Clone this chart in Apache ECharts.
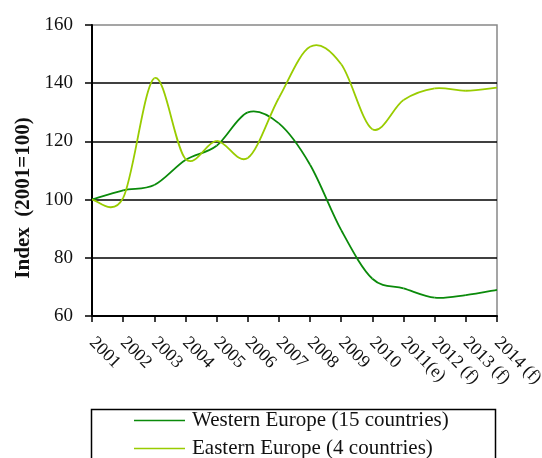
<!DOCTYPE html>
<html>
<head>
<meta charset="utf-8">
<script src="https://cdn.jsdelivr.net/npm/echarts@6/dist/echarts.min.js"></script>
<style>
html,body{margin:0;padding:0;background:#fff;}
#main{width:542px;height:458px;}
</style>
</head>
<body>
<div id="main"></div>
<script>
// 年份(类目)
var years = ['2001','2002','2003','2004','2005','2006','2007','2008','2009','2010','2011(e)','2012 (f)','2013 (f)','2014 (f)'];
// 指标值 (2001=100)
var western = [100, 103.2, 105, 113.6, 118.5, 130, 126.2, 112, 89.5, 72.8, 69.5, 66.3, 67.2, 69];
var eastern = [100, 100.6, 141.7, 114, 120.2, 114.3, 135, 152.5, 146.5, 124.2, 134.2, 138.2, 137.4, 138.5];
var seriesNames = ['Western Europe (15 countries)', 'Eastern Europe (4 countries)'];
var yTicks = [60, 160, 20]; // min, max, interval

var FONT = '"Liberation Serif", "DejaVu Serif", serif';
var colors = ['#0a8a0a', '#99cc00'];

var chart = echarts.init(document.getElementById('main'), null, {renderer: 'canvas'});

// 平滑曲线(Catmull-Rom), 每段一个bezier, 坐标由坐标轴换算
function splineRenderer(values, color) {
	return function(params, api) {
		var i = params.dataIndex;
		var n = values.length;
		if (i >= n - 1) return {type: 'group', children: []};
		var p = function(k) {
			k = Math.max(0, Math.min(n - 1, k));
			return api.coord([k, values[k]]);
		};
		var p0 = p(i - 1), p1 = p(i), p2 = p(i + 1), p3 = p(i + 2);
		var t = 1 / 6;
		return {
			type: 'bezierCurve',
			shape: {
				x1: p1[0], y1: p1[1], x2: p2[0], y2: p2[1],
				cpx1: p1[0] + (p2[0] - p0[0]) * t, cpy1: p1[1] + (p2[1] - p0[1]) * t,
				cpx2: p2[0] - (p3[0] - p1[0]) * t, cpy2: p2[1] - (p3[1] - p1[1]) * t
			},
			style: {stroke: color, lineWidth: 1.8, fill: null},
			silent: true
		};
	};
}

function toPairs(values) {
	var out = [];
	for (var i = 0; i < values.length; ++i) out.push([i, values[i]]);
	return out;
}

// 图例: 每个系列一个
function mkLegend(name, top) {
	return {
		orient: 'vertical',
		left: 134, top: top,
		padding: 0,
		icon: 'rect',
		itemWidth: 51, itemHeight: 1.6,
		textStyle: {fontFamily: FONT, fontSize: 21, color: '#111', padding: [0, 0, 0, 2]},
		data: [name]
	};
}

var option = {
	animation: false,
	backgroundColor: '#fff',
	grid: {
		left: 92, right: 45, top: 25, bottom: 142,
		outerBoundsMode: 'none',
		containLabel: false,
		show: true,
		borderColor: '#888',
		borderWidth: 1.5
	},
	xAxis: {
		type: 'category',
		data: years,
		boundaryGap: false,
		axisLine: {lineStyle: {color: '#000', width: 2}},
		axisTick: {show: true, alignWithLabel: true, length: 6, lineStyle: {color: '#000', width: 1.5}},
		axisLabel: {
			interval: 0,
			rotate: -45,
			margin: 24,
			color: '#111',
			fontFamily: FONT,
			fontSize: 18
		},
		splitLine: {show: false}
	},
	yAxis: {
		type: 'value',
		min: yTicks[0], max: yTicks[1], interval: yTicks[2],
		axisLine: {show: true, lineStyle: {color: '#000', width: 2}},
		axisTick: {show: true, length: 7, lineStyle: {color: '#000', width: 1.5}},
		axisLabel: {margin: 19, color: '#111', fontFamily: FONT, fontSize: 19},
		splitLine: {show: true, showMinLine: false, showMaxLine: false, lineStyle: {color: '#000', width: 1.5}}
	},
	legend: [mkLegend(seriesNames[0], 410), mkLegend(seriesNames[1], 438)],
	graphic: [
		{
			type: 'rect',
			left: 89, top: 407,
			shape: {width: 404, height: 70},
			style: {fill: 'none', stroke: '#000', lineWidth: 1.5},
			silent: true
		},
		{
			type: 'text',
			x: 24, y: 198,
			rotation: Math.PI / 2,
			style: {
				text: 'Index  (2001=100)',
				font: 'bold 21px ' + FONT,
				fill: '#111',
				align: 'center',
				verticalAlign: 'middle'
			}
		}
	],
	series: [
		{
			name: seriesNames[0],
			type: 'custom',
			data: toPairs(western),
			encode: {x: 0, y: 1},
			renderItem: splineRenderer(western, colors[0]),
			itemStyle: {color: colors[0]}
		},
		{
			name: seriesNames[1],
			type: 'custom',
			data: toPairs(eastern),
			encode: {x: 0, y: 1},
			renderItem: splineRenderer(eastern, colors[1]),
			itemStyle: {color: colors[1]}
		}
	]
};
chart.setOption(option);
</script>
</body>
</html>
